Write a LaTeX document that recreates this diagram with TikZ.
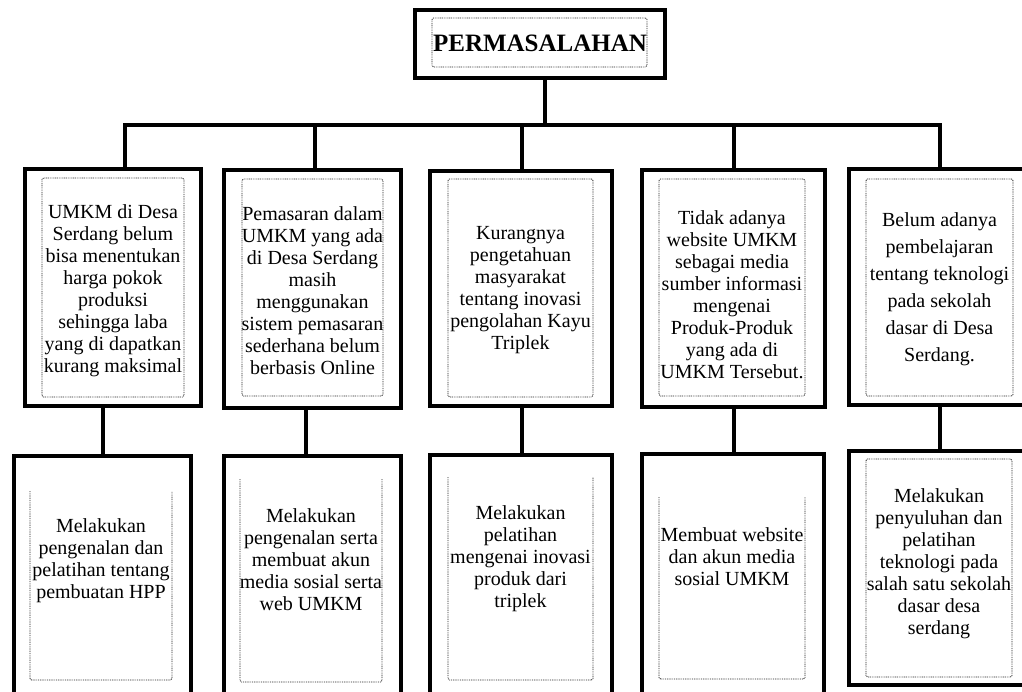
\documentclass[tikz,border=0pt]{standalone}
\usepackage{fontspec}
\setmainfont{Liberation Serif}
\begin{document}
\begin{tikzpicture}[x=1pt,y=-1pt,
  box/.style={draw=black, line width=4pt, fill=white, inner sep=0pt},
  innerbox/.style={draw=black!85, line width=0.9pt, dash pattern=on 0.9pt off 0.9pt, rounded corners=1.5pt},
  txt/.style={align=center, inner sep=0pt, font=\fontsize{20}{22}\selectfont},
  conn/.style={line width=4pt}]
\clip (0,0) rectangle (1022,691);
\fill[white] (0,0) rectangle (1022,691);

% title
\node[box, minimum width=250pt, minimum height=68pt] (top) at (540,44) {};
\draw[innerbox] (432,18) rectangle (647,67);
\node[inner sep=0pt, font=\bfseries\fontsize{25}{30}\selectfont] (toptxt) at (540,43) {PERMASALAHAN};

% upper row boxes
\node[box, minimum width=176pt, minimum height=237pt] (t1) at (113,287.5) {};
\node[box, minimum width=177pt, minimum height=238pt] (t2) at (312.5,289) {};
\node[box, minimum width=182pt, minimum height=235pt] (t3) at (521,288.5) {};
\node[box, minimum width=183pt, minimum height=237pt] (t4) at (733.5,288.5) {};
\node[box, minimum width=183pt, minimum height=236pt] (t5) at (940,287) {};

% lower row boxes
\node[box, minimum width=177pt, minimum height=244pt] (b1) at (102.5,578) {};
\node[box, minimum width=177pt, minimum height=244pt] (b2) at (312.5,578) {};
\node[box, minimum width=182pt, minimum height=245pt] (b3) at (521,577.5) {};
\node[box, minimum width=182pt, minimum height=246pt] (b4) at (733,577) {};
\node[box, minimum width=183pt, minimum height=234pt] (b5) at (940,568) {};

% connectors
\coordinate (j1) at (125,125);
\coordinate (j5) at (940,125);
\draw[conn] ([xshift=12pt]t1.north) -- (j1) -- (j5) -- (t5.north);
\draw[conn] ([xshift=5pt]top.south) -- ([xshift=5pt]top.south |- j1);
\draw[conn] ([xshift=2.5pt]t2.north) -- ([xshift=2.5pt]t2.north |- j1);
\draw[conn] ([xshift=1pt]t3.north) -- ([xshift=1pt]t3.north |- j1);
\draw[conn] (t4.north) -- (t4.north |- j1);

\draw[conn] ([xshift=-10pt]t1.south) -- ([xshift=-10pt]t1.south |- b1.north);
\draw[conn] ([xshift=-6.5pt]t2.south) -- ([xshift=-6.5pt]t2.south |- b2.north);
\draw[conn] ([xshift=1pt]t3.south) -- ([xshift=1pt]t3.south |- b3.north);
\draw[conn] ([xshift=0.5pt]t4.south) -- ([xshift=0.5pt]t4.south |- b4.north);
\draw[conn] (t5.south) -- (b5.north);

% inner dotted frames, upper row
\draw[innerbox] (42,178) rectangle (184,397);
\draw[innerbox] (242,179) rectangle (383,396);
\draw[innerbox] (448,179) rectangle (593,397);
\draw[innerbox] (659,179) rectangle (805,396);
\draw[innerbox] (866,179) rectangle (1013,396);

% inner dotted frames, lower row
\draw[innerbox] (30,491) -- (30,680) -- (172,680) -- (172,491);
\draw[innerbox] (240,479) -- (240,682) -- (382,682) -- (382,479);
\draw[innerbox] (448,477) -- (448,680) -- (593,680) -- (593,477);
\draw[innerbox] (659,497) -- (659,679) -- (805,679) -- (805,497);
\draw[innerbox] (866,459) rectangle (1012,677);

% upper texts
\node[txt] (u1) at (113,291) {UMKM di Desa\\Serdang belum\\bisa menentukan\\harga pokok\\produksi\\sehingga laba\\yang di dapatkan\\kurang maksimal};
\node[txt] (u2) at (312.5,291) {Pemasaran dalam\\UMKM yang ada\\di Desa Serdang\\masih\\menggunakan\\sistem pemasaran\\sederhana belum\\berbasis Online};
\node[txt] (u3) at (520.5,290) {Kurangnya\\pengetahuan\\masyarakat\\tentang inovasi\\pengolahan Kayu\\Triplek};
\node[txt] (u4) at (732,295) {Tidak adanya\\website UMKM\\sebagai media\\sumber informasi\\mengenai\\Produk-Produk\\yang ada di\\UMKM Tersebut.};
\node[txt, font=\fontsize{20}{27}\selectfont] (u5) at (939.5,289) {Belum adanya\\pembelajaran\\tentang teknologi\\pada sekolah\\dasar di Desa\\Serdang.};

% lower texts
\node[txt] (l1) at (101,561) {Melakukan\\pengenalan dan\\pelatihan tentang\\pembuatan HPP};
\node[txt] (l2) at (311,560) {Melakukan\\pengenalan serta\\membuat akun\\media sosial serta\\web UMKM};
\node[txt] (l3) at (520.5,559) {Melakukan\\pelatihan\\mengenai inovasi\\produk dari\\triplek};
\node[txt] (l4) at (732,557) {Membuat website\\dan akun media\\sosial UMKM};
\node[txt] (l5) at (939,564) {Melakukan\\penyuluhan dan\\pelatihan\\teknologi pada\\salah satu sekolah\\dasar desa\\serdang};
\end{tikzpicture}
\end{document}
